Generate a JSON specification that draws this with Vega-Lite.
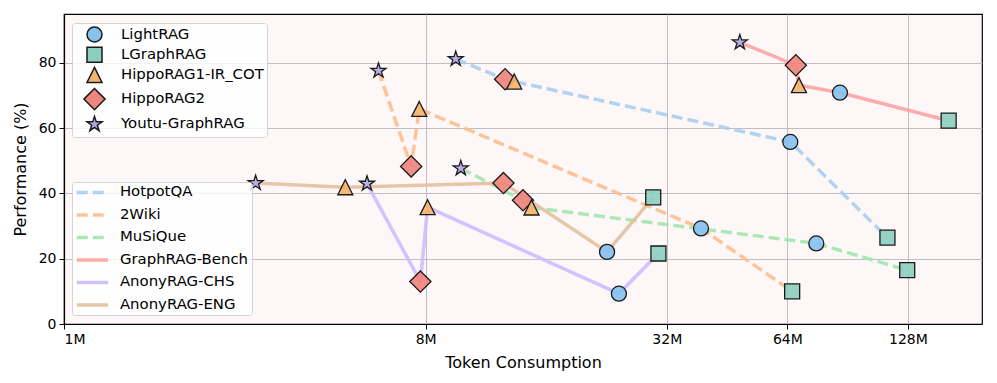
{
  "$schema": "https://vega.github.io/schema/vega-lite/v6.json",
  "width": 918,
  "height": 310,
  "autosize": "none",
  "padding": {"left": 64, "top": 14, "right": 15, "bottom": 59},
  "background": "white",
  "config": {
    "font": "DejaVu Sans",
    "view": {"fill": "#fdf8f7", "stroke": "#000000", "strokeWidth": 1.2},
    "axis": {
      "labelFont": "DejaVu Sans", "titleFont": "DejaVu Sans",
      "labelFontSize": 14, "titleFontSize": 16, "titleFontWeight": "normal",
      "labelColor": "#000000", "titleColor": "#000000",
      "domainColor": "#000000", "domainWidth": 1.2,
      "tickColor": "#000000", "tickSize": 5, "tickWidth": 1,
      "gridColor": "#b8b8b8", "gridWidth": 1, "gridOpacity": 0.9,
      "labelPadding": 3
    },
    "legend": {"labelFont": "DejaVu Sans", "labelFontSize": 14.9, "labelColor": "#000000"}
  },
  "data": {
    "values": [
      {"dataset": "GraphRAG-Bench", "method": "Youtu-GraphRAG", "tokens": 48.7, "perf": 86.3},
      {"dataset": "GraphRAG-Bench", "method": "HippoRAG2", "tokens": 67.2, "perf": 79.3},
      {"dataset": "GraphRAG-Bench", "method": "HippoRAG1-IR_COT", "tokens": 68.4, "perf": 73.2},
      {"dataset": "GraphRAG-Bench", "method": "LightRAG", "tokens": 86.6, "perf": 70.9},
      {"dataset": "GraphRAG-Bench", "method": "LGraphRAG", "tokens": 161.8, "perf": 62.3},
      {"dataset": "HotpotQA", "method": "Youtu-GraphRAG", "tokens": 9.51, "perf": 81.2},
      {"dataset": "HotpotQA", "method": "HippoRAG2", "tokens": 12.63, "perf": 75.0},
      {"dataset": "HotpotQA", "method": "HippoRAG1-IR_COT", "tokens": 13.31, "perf": 74.3},
      {"dataset": "HotpotQA", "method": "LightRAG", "tokens": 65.1, "perf": 55.8},
      {"dataset": "HotpotQA", "method": "LGraphRAG", "tokens": 113.8, "perf": 26.5},
      {"dataset": "2Wiki", "method": "Youtu-GraphRAG", "tokens": 6.1, "perf": 77.6},
      {"dataset": "2Wiki", "method": "HippoRAG2", "tokens": 7.36, "perf": 48.3},
      {"dataset": "2Wiki", "method": "HippoRAG1-IR_COT", "tokens": 7.71, "perf": 65.9},
      {"dataset": "2Wiki", "method": "LightRAG", "tokens": 38.96, "perf": 29.3},
      {"dataset": "2Wiki", "method": "LGraphRAG", "tokens": 65.8, "perf": 10.0},
      {"dataset": "MuSiQue", "method": "Youtu-GraphRAG", "tokens": 9.79, "perf": 47.7},
      {"dataset": "MuSiQue", "method": "HippoRAG2", "tokens": 14.0, "perf": 37.9},
      {"dataset": "MuSiQue", "method": "HippoRAG1-IR_COT", "tokens": 14.7, "perf": 35.7},
      {"dataset": "MuSiQue", "method": "LightRAG", "tokens": 75.6, "perf": 24.7},
      {"dataset": "MuSiQue", "method": "LGraphRAG", "tokens": 127.5, "perf": 16.5},
      {"dataset": "AnonyRAG-ENG", "method": "Youtu-GraphRAG", "tokens": 3.01, "perf": 43.2},
      {"dataset": "AnonyRAG-ENG", "method": "HippoRAG1-IR_COT", "tokens": 5.04, "perf": 41.9},
      {"dataset": "AnonyRAG-ENG", "method": "HippoRAG2", "tokens": 12.51, "perf": 43.2},
      {"dataset": "AnonyRAG-ENG", "method": "LightRAG", "tokens": 22.7, "perf": 22.1},
      {"dataset": "AnonyRAG-ENG", "method": "LGraphRAG", "tokens": 29.6, "perf": 38.8},
      {"dataset": "AnonyRAG-CHS", "method": "Youtu-GraphRAG", "tokens": 5.71, "perf": 43.0},
      {"dataset": "AnonyRAG-CHS", "method": "HippoRAG2", "tokens": 7.76, "perf": 13.0},
      {"dataset": "AnonyRAG-CHS", "method": "HippoRAG1-IR_COT", "tokens": 8.09, "perf": 35.8},
      {"dataset": "AnonyRAG-CHS", "method": "LightRAG", "tokens": 24.3, "perf": 9.3},
      {"dataset": "AnonyRAG-CHS", "method": "LGraphRAG", "tokens": 30.5, "perf": 21.6}
    ]
  },
  "encoding": {
    "x": {
      "field": "tokens", "type": "quantitative",
      "scale": {"type": "log", "base": 2, "domain": [1, 196], "nice": false},
      "axis": {"values": [1, 8, 32, 64, 128], "labelExpr": "datum.value + 'M'", "title": "Token Consumption", "titlePadding": 8, "grid": true}
    },
    "y": {
      "field": "perf", "type": "quantitative",
      "scale": {"domain": [0, 95], "nice": false, "zero": true},
      "axis": {"values": [0, 20, 40, 60, 80], "title": "Performance (%)", "titlePadding": 10, "grid": true}
    }
  },
  "layer": [
    {
      "mark": {"type": "line", "strokeWidth": 3.5, "opacity": 0.9},
      "encoding": {
        "stroke": {
          "field": "dataset", "type": "nominal",
          "scale": {
            "domain": ["HotpotQA", "2Wiki", "MuSiQue", "GraphRAG-Bench", "AnonyRAG-CHS", "AnonyRAG-ENG"],
            "range": ["#a8cdf0", "#ffbd8e", "#a3e4b0", "#ffa3a3", "#cbbcff", "#e3c0a0"]
          },
          "legend": {
            "title": null, "orient": "none", "legendX": 8, "legendY": 168,
            "symbolType": "M-3,0L3,0", "symbolSize": 110, "symbolStrokeWidth": 3.5,
            "fillColor": "rgba(255,255,255,0.8)", "strokeColor": "#d4d4d4", "cornerRadius": 3,
            "padding": 3, "rowPadding": 6.5, "labelOffset": 20, "symbolOffset": 10
          }
        },
        "strokeDash": {
          "field": "dataset", "type": "nominal",
          "scale": {
            "domain": ["HotpotQA", "2Wiki", "MuSiQue", "GraphRAG-Bench", "AnonyRAG-CHS", "AnonyRAG-ENG"],
            "range": [[11, 5], [11, 5], [11, 5], [1, 0], [1, 0], [1, 0]]
          },
          "legend": {
            "title": null, "orient": "none", "legendX": 8, "legendY": 168,
            "symbolType": "M-3,0L3,0", "symbolSize": 110, "symbolStrokeWidth": 3.5,
            "fillColor": "rgba(255,255,255,0.8)", "strokeColor": "#d4d4d4", "cornerRadius": 3,
            "padding": 3, "rowPadding": 6.5, "labelOffset": 20, "symbolOffset": 10
          }
        }
      }
    },
    {
      "mark": {"type": "point", "filled": true, "size": 225, "stroke": "#1a1a1a", "strokeWidth": 1.3, "fillOpacity": 0.92, "strokeOpacity": 1},
      "encoding": {
        "shape": {
          "field": "method", "type": "nominal",
          "scale": {
            "domain": ["LightRAG", "LGraphRAG", "HippoRAG1-IR_COT", "HippoRAG2", "Youtu-GraphRAG"],
            "range": ["circle", "square", "M0,-1L1,1L-1,1Z", "M0,-1.414L1.414,0L0,1.414L-1.414,0Z", "M0,-1.05L0.236,-0.324L0.999,-0.324L0.381,0.124L0.617,0.849L0,0.401L-0.617,0.849L-0.381,0.124L-0.999,-0.324L-0.236,-0.324Z"]
          },
          "legend": {
            "title": null, "orient": "none", "legendX": 8, "legendY": 9,
            "symbolSize": 225,
            "fillColor": "rgba(255,255,255,0.8)", "strokeColor": "#d4d4d4", "cornerRadius": 3,
            "padding": 3, "rowPadding": -0.8, "labelOffset": 18, "symbolOffset": 11,
            "encode": {"symbols": {"update": {"stroke": {"value": "#1a1a1a"}, "strokeWidth": {"value": 1.3}}}}
          }
        },
        "fill": {
          "field": "method", "type": "nominal",
          "scale": {
            "domain": ["LightRAG", "LGraphRAG", "HippoRAG1-IR_COT", "HippoRAG2", "Youtu-GraphRAG"],
            "range": ["#87c1ee", "#8dcfbf", "#f4b36d", "#ef857e", "#b3a9e3"]
          },
          "legend": {
            "title": null, "orient": "none", "legendX": 8, "legendY": 9,
            "symbolSize": 225,
            "fillColor": "rgba(255,255,255,0.8)", "strokeColor": "#d4d4d4", "cornerRadius": 3,
            "padding": 3, "rowPadding": -0.8, "labelOffset": 18, "symbolOffset": 11,
            "encode": {"symbols": {"update": {"stroke": {"value": "#1a1a1a"}, "strokeWidth": {"value": 1.3}}}}
          }
        }
      }
    }
  ]
}
